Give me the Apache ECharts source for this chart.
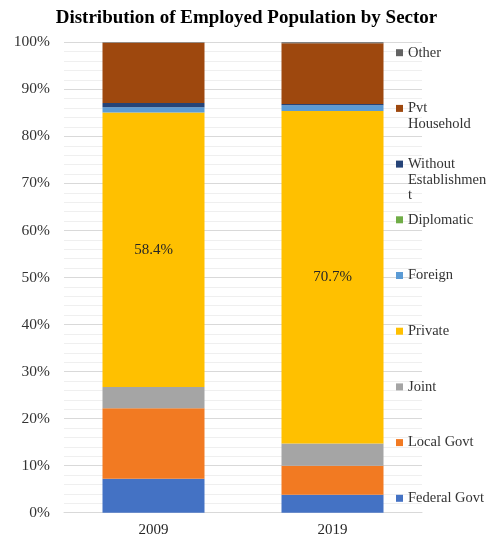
<!DOCTYPE html>
<html>
<head>
<meta charset="utf-8">
<script src="https://cdn.jsdelivr.net/npm/echarts@6/dist/echarts.min.js"></script>
<style>
  html, body { margin: 0; padding: 0; background: #fff; }
  #chart { width: 493px; height: 542px; }
</style>
</head>
<body>
<div id="chart"></div>
<script>
// Share of employed population (%) by sector, per census year
const years = ['2009', '2019'];
const sectors = ['Federal Govt', 'Local Govt', 'Joint', 'Private', 'Foreign',
                 'Diplomatic', 'Without Establishment', 'Pvt Household', 'Other'];
const federalGovt   = [7.2, 3.8];
const localGovt     = [15.0, 6.2];
const joint         = [4.5, 4.7];
const privateSector = [58.4, 70.7];
const foreign       = [1.1, 1.2];
const diplomatic    = [0.0, 0.0];
const withoutEstab  = [0.9, 0.3];
const pvtHousehold  = [12.8, 12.9];
const other         = [0.1, 0.2];
const yTicks = [0, 10, 20, 30, 40, 50, 60, 70, 80, 90, 100];

// Legend captions wrapped the way they appear beside the plot
const legendLines = {
  'Pvt Household': ['Pvt', 'Household'],
  'Without Establishment': ['Without', 'Establishmen', 't']
};

const values = [federalGovt, localGovt, joint, privateSector, foreign,
                diplomatic, withoutEstab, pvtHousehold, other];
const colors = ['#4472C4', '#F27A22', '#A5A5A5', '#FFC000', '#5B9BD5',
                '#70AD47', '#264478', '#9E480E', '#636363'];

const SERIF = '"Liberation Serif", "DejaVu Serif", serif';
const LH = 15.6;

const series = sectors.map((name, i) => ({
  name: name,
  type: 'bar',
  stack: 'total',
  barWidth: 102,
  data: values[i],
  itemStyle: { color: colors[i] },
  label: name === 'Private' ? {
    show: true,
    position: 'inside',
    formatter: p => p.value + '%',
    fontFamily: SERIF,
    fontSize: 15,
    color: '#262626'
  } : { show: false },
  emphasis: { disabled: true }
}));

// One legend block per sector, stacked top-down from "Other"
const legendTop = 52.7, legendStep = 55.7;
const legends = sectors.slice().reverse().map((name, k) => {
  const lines = legendLines[name] || [name];
  const n = lines.length;
  const center = legendTop + k * legendStep;
  return {
    data: [name],
    orient: 'vertical',
    left: 396,
    top: center - (2 * n - 1) * LH / 2,
    padding: 0,
    itemWidth: 7,
    itemHeight: 7,
    icon: 'rect',
    selectedMode: false,
    formatter: () => new Array(n - 1).fill('').concat(lines).join('\n'),
    textStyle: { fontFamily: SERIF, fontSize: 14.5, color: '#333', lineHeight: LH }
  };
});

const chart = echarts.init(document.getElementById('chart'));
chart.setOption({
  animation: false,
  title: {
    text: 'Distribution of Employed Population by Sector',
    left: 'center',
    top: 4,
    textStyle: { fontFamily: SERIF, fontSize: 19, fontWeight: 'bold', color: '#000' }
  },
  legend: legends,
  grid: { left: 64, right: 71, top: 42.3, bottom: 29.3, containLabel: false },
  xAxis: {
    type: 'category',
    data: years,
    axisTick: { show: false },
    axisLine: { show: true, lineStyle: { color: '#D9D9D9' } },
    axisLabel: { fontFamily: SERIF, fontSize: 15, color: '#262626', margin: 10 }
  },
  yAxis: {
    type: 'value',
    min: yTicks[0],
    max: yTicks[yTicks.length - 1],
    interval: yTicks[1] - yTicks[0],
    axisLine: { show: false },
    axisTick: { show: false },
    axisLabel: { fontFamily: SERIF, fontSize: 15.5, color: '#333', margin: 14, formatter: '{value}%' },
    splitLine: { show: true, lineStyle: { color: '#D9D9D9', width: 1 } },
    minorTick: { show: false, splitNumber: 5 },
    minorSplitLine: { show: true, lineStyle: { color: '#EFEFEF', width: 1 } }
  },
  series: series
});
</script>
</body>
</html>
